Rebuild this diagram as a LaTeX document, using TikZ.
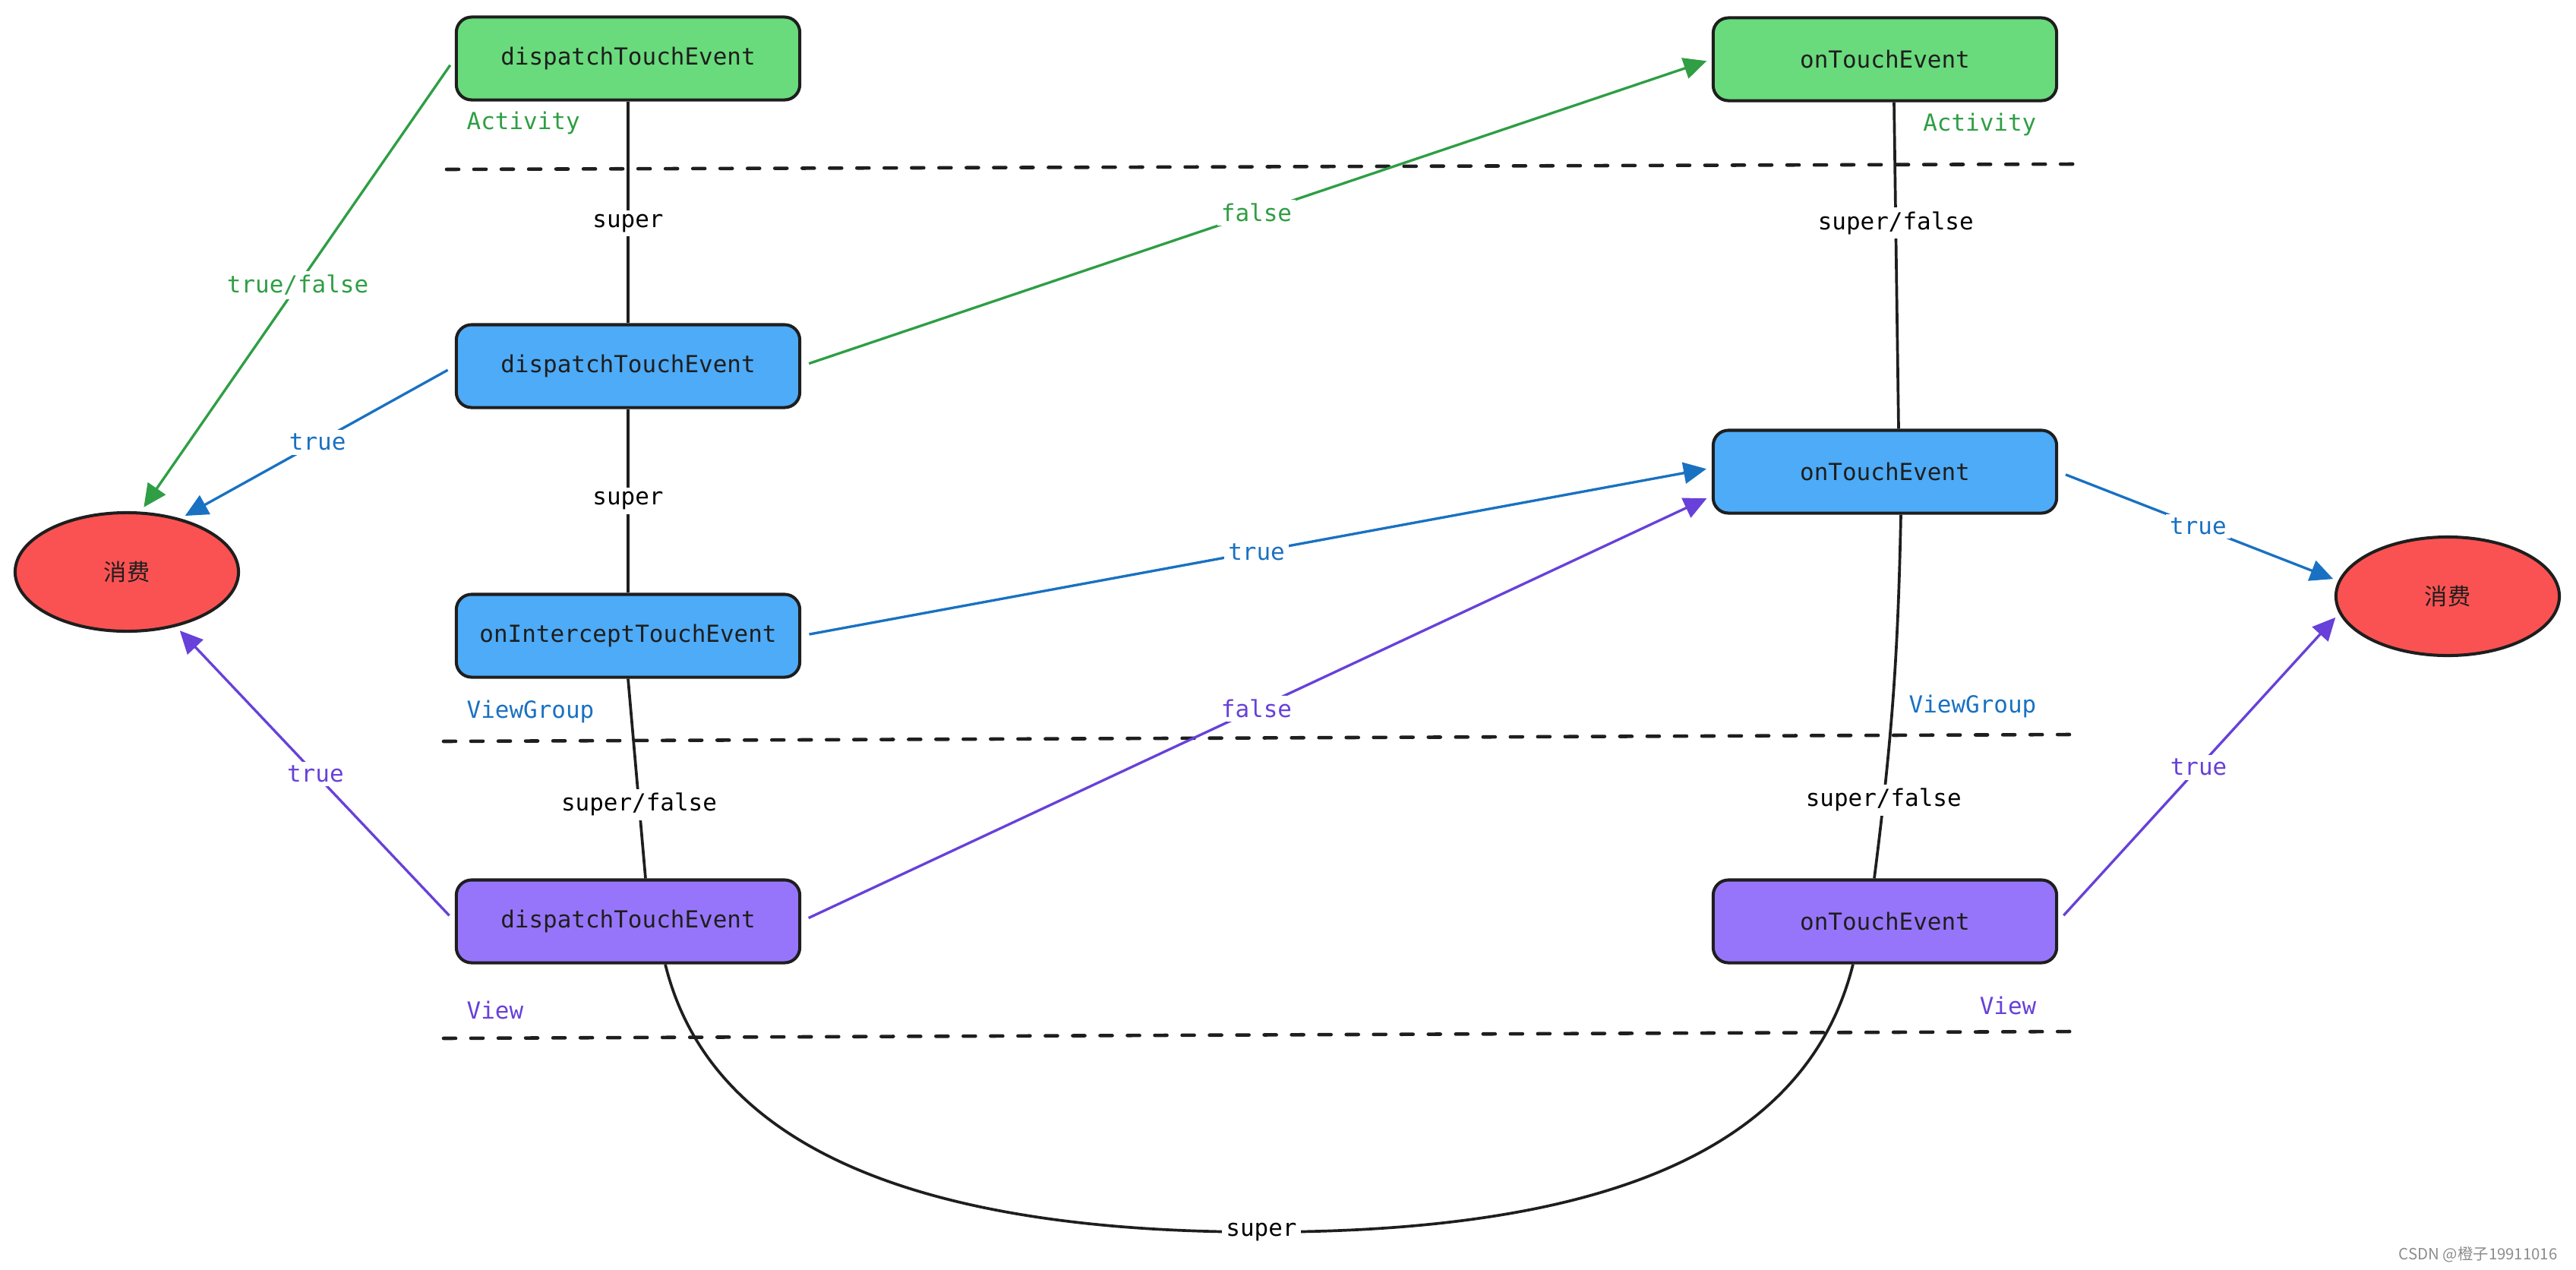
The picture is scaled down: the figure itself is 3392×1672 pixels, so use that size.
\documentclass[tikz,border=0pt]{standalone}
\usepackage{fontspec}
\setmonofont{DejaVu Sans Mono}
\newfontfamily\cjk{Noto Sans CJK SC}
\usetikzlibrary{arrows.meta,shapes.geometric}
\definecolor{inkcolor}{HTML}{1E1E1E}
\definecolor{actfill}{HTML}{69DB7C}
\definecolor{grpfill}{HTML}{4DABF7}
\definecolor{viewfill}{HTML}{9775FA}
\definecolor{usedfill}{HTML}{FA5252}
\definecolor{actline}{HTML}{2F9E44}
\definecolor{grpline}{HTML}{1971C2}
\definecolor{viewline}{HTML}{6741D9}

\begin{document}
\begin{tikzpicture}[
			x=0.01cm,y=-0.01cm,
			evbox/.style={
				draw=inkcolor,
				rounded corners=0.2cm,
				line width=1.15pt,
				minimum width=4.52cm,
				minimum height=1.09cm,
				text=inkcolor,
				font=\fontsize{8.8}{10}\selectfont\ttfamily
			},
			usedbox/.style={
				ellipse,
				draw=inkcolor,
				fill=usedfill,
				line width=1.15pt,
				minimum width=2.94cm,
				minimum height=1.56cm,
				inner sep=0pt,
				text=inkcolor,
				font=\fontsize{8.6}{10}\selectfont\cjk
			},
			evarrow/.style={
				-{Triangle[length=0.3cm,width=0.28cm]},
				line width=0.95pt,
				shorten <=3pt,
				shorten >=2pt
			},
			superlink/.style={
				draw=inkcolor,
				line width=1.05pt
			},
			evlabel/.style={
				fill=white,
				inner sep=1.5pt,
				font=\fontsize{8.8}{10}\selectfont\ttfamily
			},
			layer/.style={
				inner sep=0pt,
				font=\fontsize{8.8}{10}\selectfont\ttfamily
			},
			sepline/.style={
				draw=inkcolor,
				line width=1.3pt,
				line cap=round,
				dash pattern=on 0.16cm off 0.2cm
			}
			]
			
			\useasboundingbox (0,0) rectangle (3392,1672);
			
			% Layer separators
			\draw[sepline] (588,223) -- (2732,216);
			\draw[sepline] (584,976) -- (2725,967);
			\draw[sepline] (584,1367) -- (2728,1358);
			
			% Layer names
			\node[layer,text=actline,anchor=west] (actL) at (614,162) {Activity};
			\node[layer,text=actline,anchor=east] (actR) at (2682,164) {Activity};
			\node[layer,text=grpline,anchor=west] (grpL) at (614,937) {ViewGroup};
			\node[layer,text=grpline,anchor=east] (grpR) at (2682,930) {ViewGroup};
			\node[layer,text=viewline,anchor=west] (viewL) at (614,1330) {View};
			\node[layer,text=viewline,anchor=east] (viewR) at (2682,1324) {View};
			
			% Left column
			\node[evbox,fill=actfill] (adisp) at (827,77) {dispatchTouchEvent};
			\node[evbox,fill=grpfill] (gdisp) at (827,482) {dispatchTouchEvent};
			\node[evbox,fill=grpfill] (gint) at (827,837) {onInterceptTouchEvent};
			\node[evbox,fill=viewfill] (vdisp) at (827,1213) {dispatchTouchEvent};
			
			% Right column
			\node[evbox,fill=actfill] (atouch) at (2482,78) {onTouchEvent};
			\node[evbox,fill=grpfill] (gtouch) at (2482,621) {onTouchEvent};
			\node[evbox,fill=viewfill] (vtouch) at (2482,1213) {onTouchEvent};
			
			% Consumed
			\node[usedbox] (usedL) at (167,753) {消费};
			\node[usedbox] (usedR) at (3223,785) {消费};
			
			% super chain
			\draw[superlink] (adisp.south) --
			node[evlabel,pos=0.55]{super}
			(gdisp.north);
			
			\draw[superlink] (gdisp.south) --
			node[evlabel]{super}
			(gint.north);
			
			\draw[superlink] (gint.south) --
			node[evlabel,pos=0.63]{super/false}
			([xshift=0.23cm]vdisp.north);
			
			\draw[superlink] ([xshift=0.12cm]atouch.south) --
			node[evlabel,pos=0.37]{super/false}
			([xshift=0.18cm]gtouch.north);
			
			\draw[superlink] ([xshift=0.21cm]gtouch.south) to[bend left=3]
			node[evlabel,pos=0.8]{super/false}
			([xshift=-0.14cm]vtouch.north);
			
			\coordinate (low) at (1661,1622);
			\draw[superlink] ([xshift=0.49cm]vdisp.south)
			.. controls (940,1530) and (1250,1622) .. (low)
			.. controls (2080,1622) and (2375,1530) .. ([xshift=-0.42cm]vtouch.south);
			\node[evlabel] at (low) {super};
			
			% Activity arrows
			\draw[evarrow,actline] (adisp.west) --
			node[evlabel,text=actline]{true/false}
			(usedL.77);
			
			\draw[evarrow,actline] (gdisp.east) --
			node[evlabel,text=actline]{false}
			(atouch.west);
			
			% ViewGroup arrows
			\draw[evarrow,grpline] (gdisp.west) --
			node[evlabel,text=grpline]{true}
			(usedL.45);
			
			\draw[evarrow,grpline] (gint.east) --
			node[evlabel,text=grpline]{true}
			([yshift=0.05cm]gtouch.west);
			
			\draw[evarrow,grpline] (gtouch.east) --
			node[evlabel,text=grpline]{true}
			(usedR.172);
			
			% View arrows
			\draw[evarrow,viewline] (vdisp.west) --
			node[evlabel,text=viewline]{true}
			(usedL.-48);
			
			\draw[evarrow,viewline] (vdisp.east) --
			node[evlabel,text=viewline]{false}
			([yshift=-0.32cm]gtouch.west);
			
			\draw[evarrow,viewline] (vtouch.east) --
			node[evlabel,text=viewline]{true}
			(usedR.189);
			
			% Watermark
			\node[anchor=east,text=black!45,font=\fontsize{5.8}{7}\selectfont\cjk] (mark) at (3380,1652) {CSDN @橙子19911016};
			
		\end{tikzpicture}
\end{document}
